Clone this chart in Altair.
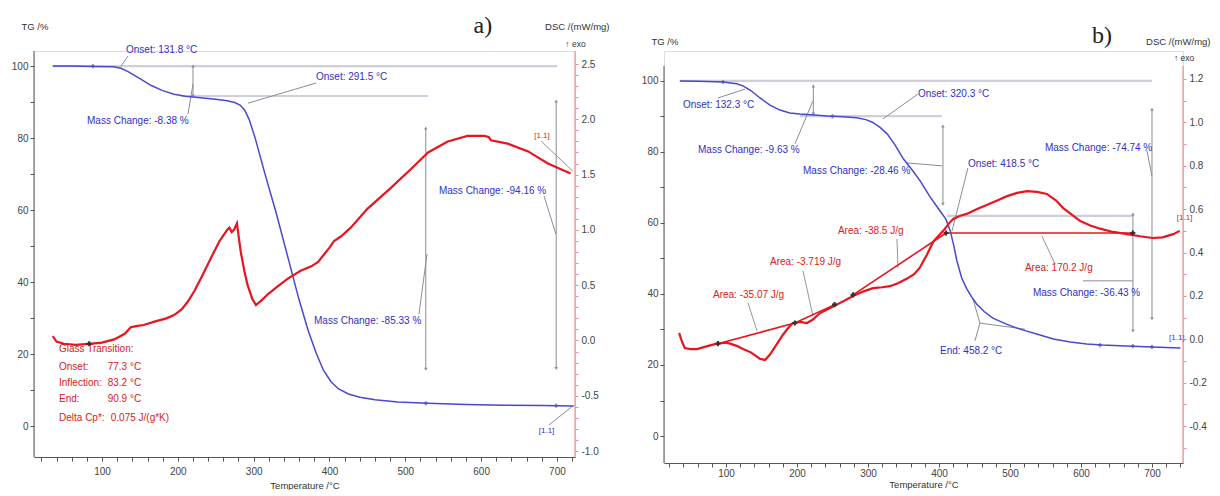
import altair as alt
import pandas as pd

FONT = "Liberation Sans, Arial, sans-serif"
SERIF = "Liberation Serif, DejaVu Serif, serif"
BLUE = "#4848d4"
BLUE_TXT = "#3030c8"
RED = "#e8141e"
RED_TXT = "#d82020"
LEVEL = "#cfcfdc"
LEAD = "#8c8c98"
AXIS_GRAY = "#555555"
AXIS_PINK = "#f07a7a"

# ---------------- panel a data ----------------
a_tg_T = [35, 60, 90, 115, 125, 135, 150, 165, 180, 195, 210, 230, 250, 265, 275, 282, 288, 294, 302, 315,
          330, 345, 360, 372, 382, 392, 402, 412, 425, 440, 460, 490, 530, 580, 630, 680, 722]
a_tg = [100, 100, 99.9, 99.8, 99.4, 98.4, 96.5, 94.6, 93.2, 92.2, 91.6, 91.2, 90.8, 90.4, 89.9, 89.2, 87.8,
        85.2, 80, 70, 59, 47, 35, 26.5, 20.5, 15.5, 12.3, 10.3, 8.9, 8.0, 7.3, 6.7, 6.3, 6.0, 5.8, 5.7, 5.6]
a_dsc_T = [35, 40, 50, 65, 83, 100, 116, 130, 138, 145, 155, 169, 185, 195, 205, 213, 222, 231, 244, 255,
           261, 265, 268, 271, 274, 278, 280, 283, 288, 292, 298, 303, 310, 319, 330, 345, 362, 376, 385,
           393, 400, 406, 415, 428, 450, 481, 512, 530, 556, 582, 604, 610, 613, 635, 662, 688, 718]
a_dsc = [0.04, -0.01, -0.03, -0.04, -0.03, -0.02, 0.01, 0.06, 0.12, 0.13, 0.14, 0.17, 0.2, 0.23, 0.28, 0.35,
         0.45, 0.57, 0.75, 0.9, 0.96, 1.0, 1.02, 0.98, 1.0, 1.06, 0.95, 0.8, 0.62, 0.5, 0.38, 0.32, 0.36, 0.42,
         0.48, 0.56, 0.63, 0.67, 0.71, 0.78, 0.84, 0.9, 0.94, 1.02, 1.19, 1.38, 1.58, 1.70, 1.80, 1.85, 1.85,
         1.84, 1.81, 1.78, 1.71, 1.60, 1.51]

a_lvl_x1 = [35, 204]
a_lvl_x2 = [700, 530]
a_lvl_y = [100, 91.7]

a_arr_x = [220, 527, 699]
a_arr_y1 = [100, 82.8, 90.3]
a_arr_y2 = [91.7, 15.8, 16.0]

a_lead_x1 = [125, 213.4, 292.5, 518, 683, 689.5]
a_lead_y1 = [100, 86.7, 89.7, 31.1, 63.9, 0.3]
a_lead_x2 = [134.3, 220, 382.2, 528.6, 698.7, 721]
a_lead_y2 = [102.8, 95, 95.3, 47.8, 53.3, 5.6]

a_blue_text = ["Onset: 131.8 °C", "Mass Change: -8.38 %", "Onset: 291.5 °C", "Mass Change: -85.33 %",
               "Mass Change: -94.16 %"]
a_blue_x = [131.6, 80.2, 382.2, 379.6, 544.4]
a_blue_y = [104.4, 84.7, 96.9, 29.2, 65.3]

a_red_text = ["Glass Transition:", "Onset:", "Inflection:", "End:", "Delta Cp*:",
              "77.3 °C", "83.2 °C", "90.9 °C", "0.075 J/(g*K)"]
a_red_x = [43.3, 43.3, 43.3, 43.3, 43.3, 107.5, 107.5, 107.5, 111.5]
a_red_y = [21.4, 16.4, 11.9, 7.5, 2.2, 16.4, 11.9, 7.5, 2.2]

a_tag_text = ["[1.1]", "[1.1]"]
a_tag_x = [670, 676]
a_tag_y = [80.6, -1.4]
a_tag_col = ["red", "blue"]

a_redlead_x1 = [679]
a_redlead_y1 = [79.2]
a_redlead_x2 = [721]
a_redlead_y2 = [70.8]

a_mark_T = [83]
a_mark_dsc = [-0.03]
a_gmark_T = [88, 527, 699]
a_gmark_tg = [100, 6.3, 5.7]

# ---------------- panel b data ----------------
b_tg_T = [35, 60, 96, 115, 124, 135, 148, 162, 176, 190, 204, 225, 242, 265, 284, 297, 307, 317, 327, 338,
          350, 362, 373, 387, 401, 410, 416, 421, 425, 432, 439, 446, 453, 464, 476, 495, 514, 540, 561, 585,
          608, 630, 655, 700, 740]
b_tg = [100, 99.9, 99.7, 99.2, 98.6, 97.3, 95.2, 93.2, 91.8, 91.0, 90.7, 90.4, 90.1, 89.9, 89.6, 89.1, 88.3,
        86.9, 85.1, 82, 78, 75, 72, 67.5, 63.5, 61, 57.7, 53.5, 49.5, 44.5, 41.5, 39.2, 37.2, 35, 33.2, 31.5,
        30.1, 28.6, 27.3, 26.5, 25.9, 25.6, 25.4, 25.1, 24.8]
b_dsc_T = [34, 38, 42, 50, 59, 75, 87, 100, 106, 115, 124, 135, 148, 155, 162, 170, 180, 187, 194, 204, 214,
           222, 232, 244, 256, 268, 279, 293, 307, 320, 331, 343, 355, 365, 373, 378, 383, 392, 400, 406, 413,
           420, 430, 439, 453, 468, 482, 496, 510, 524, 538, 552, 565, 575, 587, 599, 613, 627, 645, 665, 683,
           701, 715, 730, 739]
b_dsc = [0.03, -0.01, -0.04, -0.045, -0.045, -0.03, -0.02, -0.015, -0.02, -0.03, -0.045, -0.06, -0.09,
         -0.095, -0.07, -0.03, 0.02, 0.05, 0.075, 0.08, 0.075, 0.09, 0.12, 0.14, 0.16, 0.18, 0.2, 0.22, 0.236,
         0.24, 0.245, 0.26, 0.28, 0.3, 0.33, 0.36, 0.39, 0.45, 0.48, 0.5, 0.53, 0.555, 0.57, 0.578, 0.6, 0.62,
         0.64, 0.66, 0.675, 0.683, 0.68, 0.67, 0.64, 0.605, 0.575, 0.545, 0.525, 0.51, 0.495, 0.485, 0.475,
         0.467, 0.47, 0.485, 0.5]

b_lvl_x1 = [35, 204, 411]
b_lvl_x2 = [700, 404, 673]
b_lvl_y = [100, 90.1, 62]

b_arr_x = [223, 405.6, 700, 673.2]
b_arr_y1 = [98.6, 87.3, 92, 62.5]
b_arr_y2 = [90.7, 65.3, 33, 29.6]

b_lead_x1 = [88.7, 197.2, 321.1, 354.9, 440.8, 693, 602.8, 450.7, 457.7, 457.7]
b_lead_y1 = [95.2, 82.3, 89.3, 76.9, 75.5, 80.3, 43.7, 26.8, 31.8, 31.8]
b_lead_x2 = [126.8, 222.5, 370.4, 404.2, 418.3, 700, 673.2, 457.7, 447.9, 521]
b_lead_y2 = [97.7, 94.4, 96.3, 76.1, 57.7, 73.2, 43.7, 31.8, 38.6, 30.1]

b_redlead_x1 = [131, 208.5, 340.8, 563.4]
b_redlead_y1 = [37.5, 46.5, 55.5, 48.5]
b_redlead_x2 = [143.7, 222.5, 342.3, 545]
b_redlead_y2 = [29.6, 33.8, 47.3, 56.3]

b_blue_text = ["Onset: 132.3 °C", "Mass Change: -9.63 %", "Onset: 320.3 °C", "Mass Change: -28.46 %",
               "Onset: 418.5 °C", "Mass Change: -74.74 %", "Mass Change: -36.43 %", "End: 458.2 °C"]
b_blue_x = [39.4, 60.6, 370.4, 208.5, 440.8, 549.3, 532.4, 401.4]
b_blue_y = [93.2, 80.6, 96.3, 74.6, 76.6, 81.1, 40.3, 23.9]

b_red_text = ["Area: -35.07 J/g", "Area: -3.719 J/g", "Area: -38.5 J/g", "Area: 170.2 J/g"]
b_red_x = [81.7, 162, 257.7, 521]
b_red_y = [39.7, 49, 57.7, 47.3]

b_tag_text = ["[1.1]", "[1.1]"]
b_tag_x = [735, 724]
b_tag_y = [61.5, 27.6]
b_tag_col = ["red", "blue"]

b_base_x1 = [88.7, 197, 279, 410]
b_base_y1 = [-0.02, 0.075, 0.205, 0.49]
b_base_x2 = [197, 253, 410, 673]
b_base_y2 = [0.075, 0.16, 0.49, 0.49]

b_mark_T = [88.7, 197, 253, 279, 410, 673]
b_mark_dsc = [-0.02, 0.075, 0.16, 0.205, 0.49, 0.49]
b_gmark_T = [96, 250, 627, 673, 700]
b_gmark_tg = [99.7, 90.0, 25.6, 25.3, 25.1]

MINUS = "\u2212"


def panel(cfg):
    d = cfg
    xs = alt.Scale(domain=d["xdom"], nice=False, zero=False)
    yl = alt.Scale(domain=d["tgdom"], nice=False, zero=False)
    yr = alt.Scale(domain=d["dscdom"], nice=False, zero=False)
    xticks = list(range(20, d["xmax_tick"] + 1, 20))
    xaxis = alt.Axis(values=xticks, labelExpr="datum.value % 100 === 0 ? datum.label : ''",
                     title="Temperature /°C", grid=False, tickSize=4, tickColor=AXIS_GRAY, domainColor=AXIS_GRAY,
                     labelFont=FONT, labelFontSize=10, labelColor="#444", labelPadding=d["xlabpad"],
                     titleFont=FONT, titleFontSize=9.5, titleFontWeight="normal", titleColor="#333",
                     titleBaseline="middle", titleY=d["xtitley"])
    laxis = alt.Axis(values=list(range(0, 101, 10)), labelExpr="datum.value % 20 === 0 ? datum.label : ''",
                     grid=False, tickSize=4, tickColor=AXIS_GRAY, domain=False, labelFont=FONT,
                     labelFontSize=10, labelColor="#444", labelPadding=2, title="TG /%", titleAngle=0,
                     titleAlign="left", titleBaseline="middle", titleX=-13, titleY=d["ytitley"], titleFont=FONT,
                     titleFontSize=9.5, titleFontWeight="normal", titleColor="#333")
    raxis = alt.Axis(orient="right", values=d["rticks"],
                     labelExpr="abs(datum.value*%d - round(datum.value*%d)) < 0.001 ? replace(format(datum.value, '.1f'), '%s', '-') : ''" % (d["rmul"], d["rmul"], MINUS),
                     grid=False, tickSize=3, tickColor="#f08c8c", domain=False, labelFont=FONT,
                     labelFontSize=10, labelColor="#444", labelPadding=3, title="DSC /(mW/mg)", titleAngle=0,
                     titleAlign="right", titleBaseline="middle", titleX=d["rtitlex"], titleY=d["ytitley"],
                     titleFont=FONT, titleFontSize=9.5, titleFontWeight="normal", titleColor="#333")

    X = lambda f: alt.X(f, scale=xs, axis=xaxis)
    YL = lambda f: alt.Y(f, scale=yl, axis=laxis)
    YR = lambda f: alt.Y(f, scale=yr, axis=raxis)

    # axis lines drawn over the labelled range of each axis
    base_df = pd.DataFrame({"k": [0]})
    ldom = alt.Chart(base_df).mark_rule(color=AXIS_GRAY, strokeWidth=1).encode(
        x=alt.X(datum=d["xdom"][0], scale=xs, axis=xaxis),
        y=alt.Y(datum=d["ltop"], scale=yl, axis=laxis), y2=alt.Y2(datum=d["tgdom"][0]))
    rdom = alt.Chart(base_df).mark_rule(color=AXIS_PINK, strokeWidth=1).encode(
        x=alt.X(datum=d["xdom"][1], scale=xs, axis=xaxis),
        y=alt.Y(datum=d["rtop"], scale=yr, axis=raxis), y2=alt.Y2(datum=d["dscdom"][0]))

    lvl = alt.Chart(pd.DataFrame({"x1": d["lvl_x1"], "x2": d["lvl_x2"], "y": d["lvl_y"]})).mark_rule(
        color=LEVEL, strokeWidth=2.2).encode(x=X("x1:Q"), x2="x2:Q", y=YL("y:Q"))
    arr_df = pd.DataFrame({"x": d["arr_x"], "y1": d["arr_y1"], "y2": d["arr_y2"]})
    arr = alt.Chart(arr_df).mark_rule(color=LEAD, strokeWidth=1).encode(x=X("x:Q"), y=YL("y1:Q"), y2="y2:Q")
    head_up = alt.Chart(arr_df).mark_point(shape="triangle-up", filled=True, size=12, color=LEAD, opacity=1).encode(
        x=X("x:Q"), y=YL("y1:Q"))
    head_dn = alt.Chart(arr_df).mark_point(shape="triangle-down", filled=True, size=12, color=LEAD, opacity=1).encode(
        x=X("x:Q"), y=YL("y2:Q"))
    lead = alt.Chart(pd.DataFrame({"x1": d["lead_x1"], "y1": d["lead_y1"], "x2": d["lead_x2"], "y2": d["lead_y2"]})).mark_rule(
        color=LEAD, strokeWidth=1).encode(x=X("x1:Q"), y=YL("y1:Q"), x2="x2:Q", y2="y2:Q")
    rlead = alt.Chart(pd.DataFrame({"x1": d["rlead_x1"], "y1": d["rlead_y1"], "x2": d["rlead_x2"], "y2": d["rlead_y2"]})).mark_rule(
        color="#a09090", strokeWidth=1).encode(x=X("x1:Q"), y=YL("y1:Q"), x2="x2:Q", y2="y2:Q")
    gmark = alt.Chart(pd.DataFrame({"T": d["gmark_T"], "v": d["gmark_tg"]})).mark_point(
        shape="cross", filled=True, size=18, color="#8888a0", opacity=1).encode(x=X("T:Q"), y=YL("v:Q"))
    tg = alt.Chart(pd.DataFrame({"T": d["tg_T"], "v": d["tg"]})).mark_line(
        color=BLUE, strokeWidth=1.5).encode(x=X("T:Q"), y=YL("v:Q"))
    btxt = alt.Chart(pd.DataFrame({"x": d["blue_x"], "y": d["blue_y"], "t": d["blue_text"]})).mark_text(
        align="left", baseline="middle", font=FONT, fontSize=10, color=BLUE_TXT).encode(
        x=X("x:Q"), y=YL("y:Q"), text="t:N")
    rtxt = alt.Chart(pd.DataFrame({"x": d["red_x"], "y": d["red_y"], "t": d["red_text"]})).mark_text(
        align="left", baseline="middle", font=FONT, fontSize=10, color=RED_TXT).encode(
        x=X("x:Q"), y=YL("y:Q"), text="t:N")
    tag = alt.Chart(pd.DataFrame({"x": d["tag_x"], "y": d["tag_y"], "t": d["tag_text"], "c": d["tag_col"]})).mark_text(
        align="left", baseline="middle", font=FONT, fontSize=8).encode(
        x=X("x:Q"), y=YL("y:Q"), text="t:N",
        color=alt.Color("c:N", scale=alt.Scale(domain=["red", "blue"], range=[RED_TXT, BLUE_TXT]), legend=None))
    heads = alt.Chart(pd.DataFrame({"x": [d["exo_x"], d["lab_x"]], "y": [d["exo_y"], d["lab_y"]],
                                    "t": ["↑ exo", d["label"]]}))
    exo = heads.transform_filter("datum.t == '↑ exo'").mark_text(
        align="left", baseline="middle", font=FONT, fontSize=8.5, color="#333").encode(
        x=X("x:Q"), y=YL("y:Q"), text="t:N")
    lab = heads.transform_filter("datum.t != '↑ exo'").mark_text(
        align="center", baseline="middle", font=SERIF, fontSize=24, color="#222").encode(
        x=X("x:Q"), y=YL("y:Q"), text="t:N")

    left = alt.layer(ldom, lvl, arr, head_up, head_dn, lead, rlead, gmark, tg, btxt, rtxt, tag, exo, lab)

    dsc = alt.Chart(pd.DataFrame({"T": d["dsc_T"], "v": d["dsc"]})).mark_line(
        color=RED, strokeWidth=2.2).encode(x=X("T:Q"), y=YR("v:Q"))
    rlayers = [rdom, dsc]
    if d.get("base_x1"):
        base = alt.Chart(pd.DataFrame({"x1": d["base_x1"], "y1": d["base_y1"], "x2": d["base_x2"], "y2": d["base_y2"]})).mark_rule(
            color=RED, strokeWidth=1.6).encode(x=X("x1:Q"), y=YR("y1:Q"), x2="x2:Q", y2="y2:Q")
        rlayers.insert(1, base)
    mk = alt.Chart(pd.DataFrame({"T": d["mark_T"], "v": d["mark_dsc"]})).mark_point(
        shape="cross", filled=True, size=26, color="#333", opacity=1).encode(x=X("T:Q"), y=YR("v:Q"))
    rlayers.append(mk)
    right = alt.layer(*rlayers)

    return alt.layer(left, right).resolve_scale(y="independent").properties(width=d["w"], height=d["h"])


cfg_a = dict(xdom=[10.3, 723.8], tgdom=[-8.6, 104.2], dscdom=[-1.054, 2.618], ltop=104.2, rtop=2.618,
             xmax_tick=720, rticks=[round(-1.0 + 0.1 * i, 2) for i in range(36)], rmul=2, w=541, h=406,
             xlabpad=5, xtitley=28, ytitley=-25, rtitlex=34,
             tg_T=a_tg_T, tg=a_tg, dsc_T=a_dsc_T, dsc=a_dsc,
             lvl_x1=a_lvl_x1, lvl_x2=a_lvl_x2, lvl_y=a_lvl_y,
             arr_x=a_arr_x, arr_y1=a_arr_y1, arr_y2=a_arr_y2,
             lead_x1=a_lead_x1, lead_y1=a_lead_y1, lead_x2=a_lead_x2, lead_y2=a_lead_y2,
             rlead_x1=a_redlead_x1, rlead_y1=a_redlead_y1, rlead_x2=a_redlead_x2, rlead_y2=a_redlead_y2,
             blue_text=a_blue_text, blue_x=a_blue_x, blue_y=a_blue_y,
             red_text=a_red_text, red_x=a_red_x, red_y=a_red_y,
             tag_text=a_tag_text, tag_x=a_tag_x, tag_y=a_tag_y, tag_col=a_tag_col,
             mark_T=a_mark_T, mark_dsc=a_mark_dsc, gmark_T=a_gmark_T, gmark_tg=a_gmark_tg,
             exo_x=711, exo_y=106.1, label="a)", lab_x=602.4, lab_y=111.1)

# panel b: the plot area starts at the same height as panel a; its TG and DSC ranges
# extend above the drawn axis lines so that 100 % and 1.2 mW/mg sit lower than in panel a
cfg_b = dict(xdom=[12.7, 743.7], tgdom=[-7.6, 108.43], dscdom=[-0.57, 1.329], ltop=104.2, rtop=1.26,
             xmax_tick=740, rticks=[round(-0.5 + 0.1 * i, 2) for i in range(18)], rmul=5, w=519, h=412,
             xlabpad=1, xtitley=21.5, ytitley=-10, rtitlex=27,
             tg_T=b_tg_T, tg=b_tg, dsc_T=b_dsc_T, dsc=b_dsc,
             lvl_x1=b_lvl_x1, lvl_x2=b_lvl_x2, lvl_y=b_lvl_y,
             arr_x=b_arr_x, arr_y1=b_arr_y1, arr_y2=b_arr_y2,
             lead_x1=b_lead_x1, lead_y1=b_lead_y1, lead_x2=b_lead_x2, lead_y2=b_lead_y2,
             rlead_x1=b_redlead_x1, rlead_y1=b_redlead_y1, rlead_x2=b_redlead_x2, rlead_y2=b_redlead_y2,
             blue_text=b_blue_text, blue_x=b_blue_x, blue_y=b_blue_y,
             red_text=b_red_text, red_x=b_red_x, red_y=b_red_y,
             tag_text=b_tag_text, tag_x=b_tag_x, tag_y=b_tag_y, tag_col=b_tag_col,
             base_x1=b_base_x1, base_y1=b_base_y1, base_x2=b_base_x2, base_y2=b_base_y2,
             mark_T=b_mark_T, mark_dsc=b_mark_dsc, gmark_T=b_gmark_T, gmark_tg=b_gmark_tg,
             exo_x=731, exo_y=106.5, label="b)", lab_x=629.6, lab_y=112.7)

chart = alt.hconcat(panel(cfg_a), panel(cfg_b), spacing=30).properties(
    padding={"left": 2, "top": 5, "right": 0, "bottom": 0}
).configure_view(strokeWidth=0, strokeOpacity=0).configure(background="white")

chart.save("out.html", embed_options={"renderer": "svg", "actions": False})
